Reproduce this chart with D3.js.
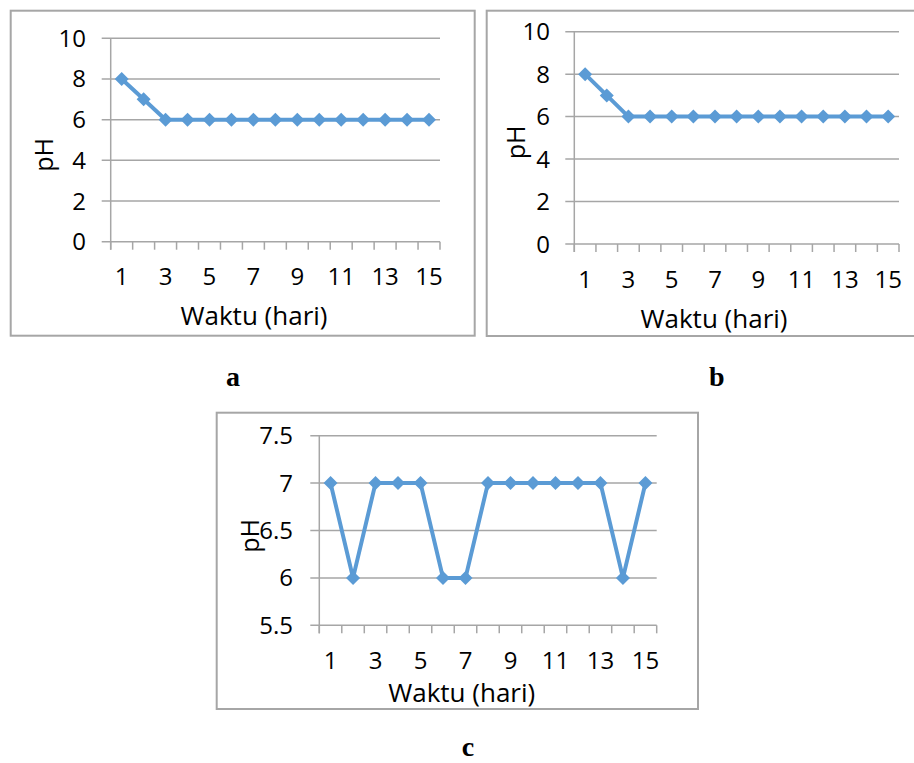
<!DOCTYPE html>
<html>
<head>
<meta charset="utf-8">
<script src="https://cdn.jsdelivr.net/npm/d3@7"></script>
<style>
  body { margin: 0; background: #fff; }
  svg text { font-family: "Open Sans", sans-serif; fill: #000; }
</style>
</head>
<body>
<script>

// data
let days = [1, 2, 3, 4, 5, 6, 7, 8, 9, 10, 11, 12, 13, 14, 15];
let dayLabels = [1, 3, 5, 7, 9, 11, 13, 15];
let phA = [8, 7, 6, 6, 6, 6, 6, 6, 6, 6, 6, 6, 6, 6, 6];
let phB = [8, 7, 6, 6, 6, 6, 6, 6, 6, 6, 6, 6, 6, 6, 6];
let phC = [7, 6, 7, 7, 7, 6, 6, 7, 7, 7, 7, 7, 7, 6, 7];
let ticksAB = [0, 2, 4, 6, 8, 10];
let ticksC = [5.5, 6, 6.5, 7, 7.5];
let xTitle = "Waktu (hari)";
let yTitle = "pH";

let grey = "#a6a6a6",
    blue = "#5b9bd5";

let svg = d3.select("body").append("svg")
    .attr("width", 914)
    .attr("height", 763);

function drawPanel(p) {
    let g = svg.append("g");

    // outer frame
    g.append("rect")
        .attr("x", p.box[0]).attr("y", p.box[1])
        .attr("width", p.box[2] - p.box[0])
        .attr("height", p.box[3] - p.box[1])
        .attr("fill", "none")
        .attr("stroke", grey)
        .attr("stroke-width", 2);

    let x = d3.scaleBand()
        .domain(p.days)
        .range(p.xr)
        .paddingInner(0).paddingOuter(0);

    let y = d3.scaleLinear()
        .domain(p.domain)
        .range(p.yr);

    // gridlines + y ticks
    g.selectAll(".grid")
        .data(p.ticks)
        .join("line")
            .attr("x1", p.xr[0] - 9)
            .attr("x2", p.xr[1])
            .attr("y1", d => y(d))
            .attr("y2", d => y(d))
            .attr("stroke", grey)
            .attr("stroke-width", 1.5);

    g.selectAll(".ylab")
        .data(p.ticks)
        .join("text")
            .attr("x", p.ylabX)
            .attr("y", d => y(d) + 8.5)
            .attr("text-anchor", "end")
            .attr("font-size", 24)
            .text(d => d);

    // y axis line
    g.append("line")
        .attr("x1", p.xr[0]).attr("x2", p.xr[0])
        .attr("y1", p.yr[1]).attr("y2", p.yr[0] + 8)
        .attr("stroke", grey)
        .attr("stroke-width", 1.5);

    // x ticks at category boundaries
    let bounds = p.days.map(d => x(d)).concat([p.xr[1]]);
    g.selectAll(".xtick")
        .data(bounds)
        .join("line")
            .attr("x1", d => d).attr("x2", d => d)
            .attr("y1", p.yr[0]).attr("y2", p.yr[0] + 8)
            .attr("stroke", grey)
            .attr("stroke-width", 1.5);

    g.selectAll(".xlab")
        .data(dayLabels)
        .join("text")
            .attr("x", d => x(d) + x.bandwidth() / 2)
            .attr("y", p.xlabY + 8.5)
            .attr("text-anchor", "middle")
            .attr("font-size", 24)
            .text(d => d);

    // titles
    g.append("text")
        .attr("x", p.xTitle[0])
        .attr("y", p.xTitle[1])
        .attr("text-anchor", "middle")
        .attr("font-size", 26)
        .text(xTitle);

    g.append("text")
        .attr("transform", `translate(${p.yTitle[0]},${p.yTitle[1]}) rotate(-90)`)
        .attr("text-anchor", "middle")
        .attr("dominant-baseline", "central")
        .attr("font-size", 25)
        .text(yTitle);

    // series
    let pts = p.days.map((d, i) => [x(d) + x.bandwidth() / 2, y(p.values[i])]);

    g.append("path")
        .attr("d", d3.line()(pts))
        .attr("fill", "none")
        .attr("stroke", blue)
        .attr("stroke-width", 4)
        .attr("stroke-linejoin", "round");

    g.selectAll(".mark")
        .data(pts)
        .join("path")
            .attr("transform", d => `translate(${d[0]},${d[1]})`)
            .attr("d", d3.symbol(d3.symbolDiamond2, 125)())
            .attr("fill", blue);

    // panel letter
    svg.append("text")
        .attr("x", p.letter[0])
        .attr("y", p.letter[1])
        .attr("text-anchor", "middle")
        .attr("font-size", 28)
        .attr("font-weight", "bold")
        .style("font-family", "'Liberation Serif', 'DejaVu Serif', serif")
        .text(p.name);
}

drawPanel({
    name: "a", days: days, values: phA, ticks: ticksAB, domain: [0, 10],
    box: [10.7, 10.7, 474.7, 335.7],
    xr: [110.7, 440], yr: [241.7, 38.3],
    ylabX: 86, xlabY: 276,
    xTitle: [254, 325], yTitle: [43, 155],
    letter: [233, 386]
});

drawPanel({
    name: "b", days: days, values: phB, ticks: ticksAB, domain: [0, 10],
    box: [486.7, 10.7, 930, 336],
    xr: [574.3, 899], yr: [244, 31.7],
    ylabX: 550, xlabY: 279,
    xTitle: [714, 328], yTitle: [515, 142.5],
    letter: [716.7, 386]
});

drawPanel({
    name: "c", days: days, values: phC, ticks: ticksC, domain: [5.5, 7.5],
    box: [216.7, 412.7, 698, 709],
    xr: [319.3, 656.7], yr: [625.3, 435.7],
    ylabX: 293, xlabY: 660,
    xTitle: [461.7, 701.7], yTitle: [249, 536],
    letter: [468, 756]
});

</script>
</body>
</html>
